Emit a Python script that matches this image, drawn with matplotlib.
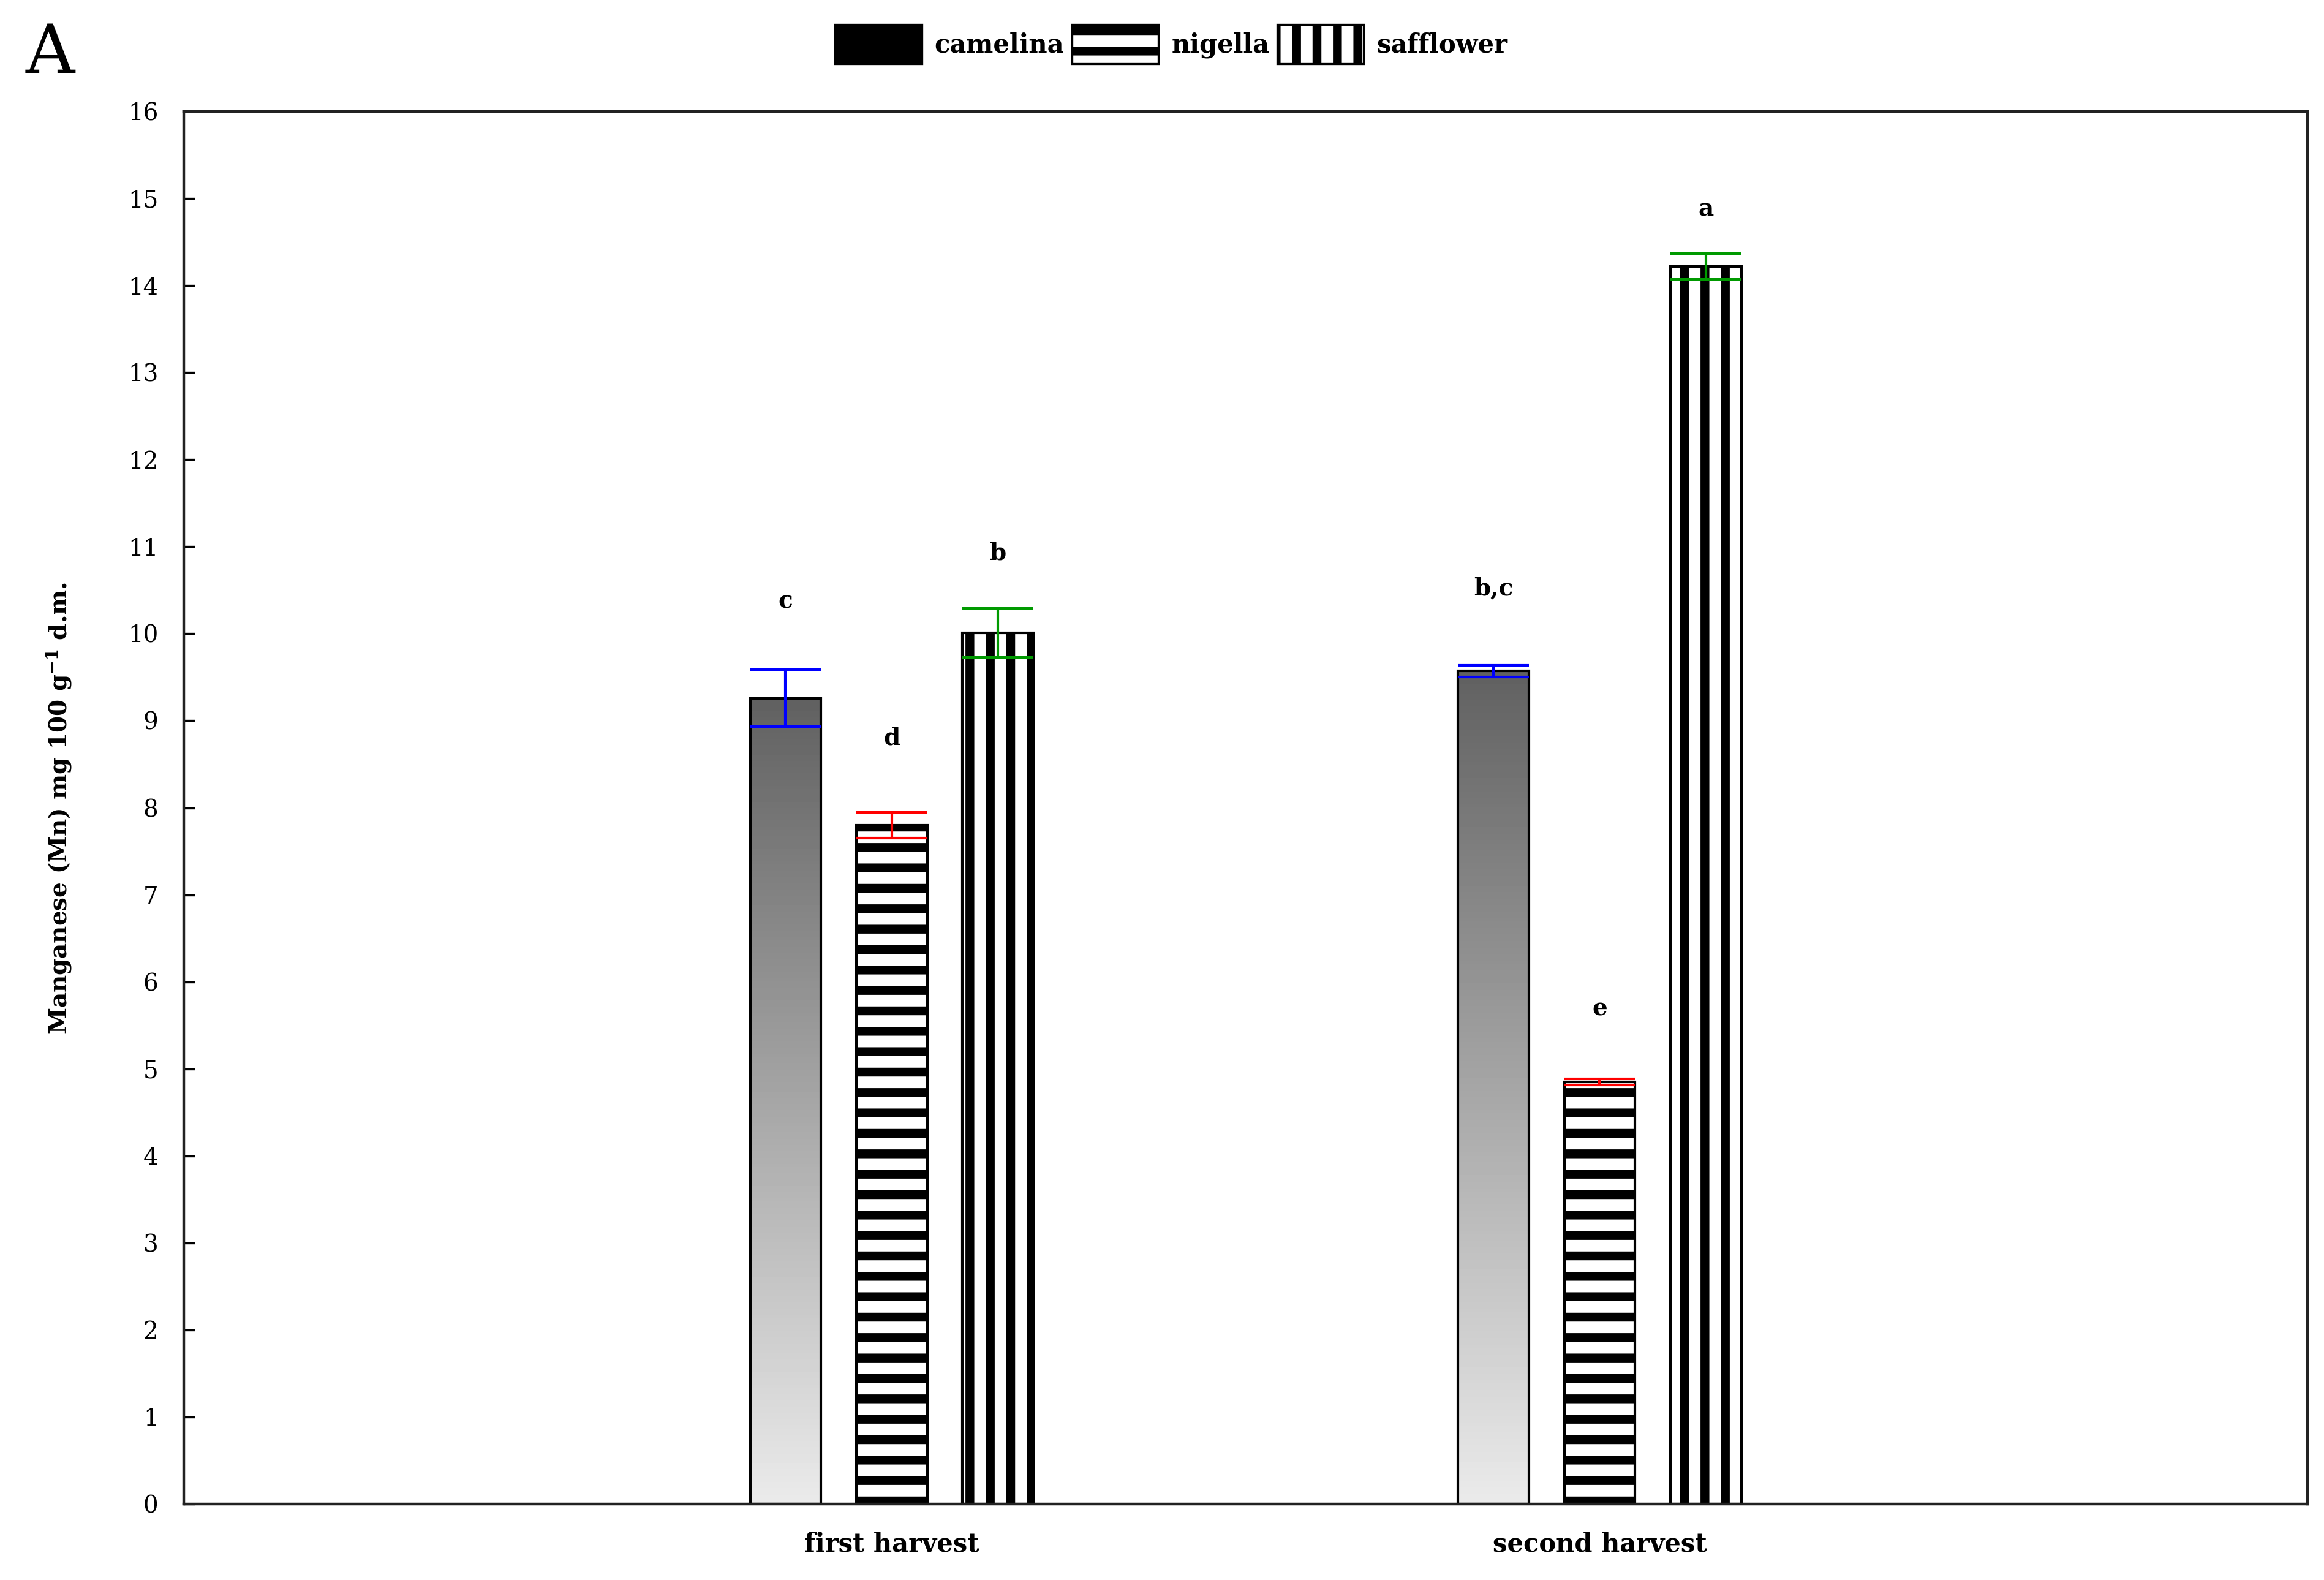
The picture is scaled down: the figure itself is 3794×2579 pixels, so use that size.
import matplotlib
matplotlib.use("Agg")
import matplotlib.pyplot as plt
import numpy as np
from matplotlib.patches import Patch

plt.rcParams["font.family"] = ["DejaVu Serif"]
plt.rcParams["mathtext.default"] = "regular"
plt.rcParams["hatch.linewidth"] = 5.2

harvests = ["first harvest", "second harvest"]
crops = ["camelina", "nigella", "safflower"]

camelina = [9.26, 9.57]
nigella = [7.80, 4.85]
safflower = [10.01, 14.22]

camelina_err = [0.33, 0.07]
nigella_err = [0.145, 0.035]
safflower_err = [0.28, 0.15]

# significance letters and their heights
letters = [["c", "b,c"], ["d", "e"], ["b", "a"]]
letter_y = [[10.37, 10.52], [8.80, 5.69], [10.93, 14.88]]

values = [camelina, nigella, safflower]
errors = [camelina_err, nigella_err, safflower_err]
err_colors = ["#0000ff", "#ff0000", "#009a00"]
hatches = [None, "-", "|"]
offsets = [-0.15, 0.0, 0.15]
width = 0.1

dpi = 200
fig = plt.figure(figsize=(3794 / dpi, 2579 / dpi), dpi=dpi)
ax = fig.add_axes([0.0791, 0.0481, 0.9138, 0.8813])
ax.set_xlim(-1, 2)
ax.set_ylim(0, 16)

x = np.arange(len(harvests))
ax_px = ax.get_position().width * fig.get_figwidth() * dpi
cap = width / 2 * ax_px / 3 * 72 / dpi

for i, crop in enumerate(crops):
    xs = x + offsets[i]
    if hatches[i] is None:
        bars = ax.bar(xs, values[i], width, facecolor="none", edgecolor="black",
                      linewidth=1.5, zorder=2)
        for b in bars:
            grad = np.linspace(0.38, 0.92, 256)[:, None]
            im = ax.imshow(grad, cmap="gray", vmin=0, vmax=1, aspect="auto",
                           extent=[b.get_x(), b.get_x() + b.get_width(), 0, b.get_height()],
                           origin="upper", zorder=1)
            im.set_clip_path(b)
    else:
        ax.bar(xs, values[i], width, facecolor="white", edgecolor="black",
               hatch=hatches[i], linewidth=1.5, zorder=2)
    ax.errorbar(xs, values[i], yerr=errors[i], fmt="none", ecolor=err_colors[i],
                elinewidth=1.5, capsize=cap, capthick=1.5, zorder=3)
    for j in range(len(harvests)):
        ax.text(xs[j], letter_y[i][j], letters[i][j], ha="center", va="center",
                fontsize=14, fontweight="bold")

ax.set_xlim(-1, 2)
ax.set_ylim(0, 16)
ax.set_xticks(x)
ax.set_xticklabels(harvests, fontsize=15, fontweight="bold")
ax.set_yticks(range(0, 17))
ax.tick_params(axis="x", length=0, pad=16)
ax.tick_params(axis="y", direction="in", length=6.5, width=1.2, labelsize=14, pad=15)
for s in ax.spines.values():
    s.set_linewidth(1.6)
    s.set_color("#222222")

ax.set_ylabel("Manganese (Mn) mg 100 g$^{-1}$ d.m.", fontsize=14, fontweight="bold")
ax.yaxis.set_label_coords(-0.052, 0.5)

fig.text(0.0216, 0.9655, "A", fontsize=40, ha="center", va="center")

handles = [
    Patch(facecolor="black", edgecolor="black", linewidth=1.2),
    Patch(facecolor="white", edgecolor="black", hatch="-", linewidth=1.2),
    Patch(facecolor="white", edgecolor="black", hatch="|", linewidth=1.2),
]
fig.legend(handles, crops, loc="center", bbox_to_anchor=(0.504, 0.972), ncol=3,
           frameon=False, handlelength=3.4, handleheight=2.0, handletextpad=0.5,
           columnspacing=0.3, prop={"weight": "bold", "size": 15})

fig.savefig("out.png", dpi=dpi)
